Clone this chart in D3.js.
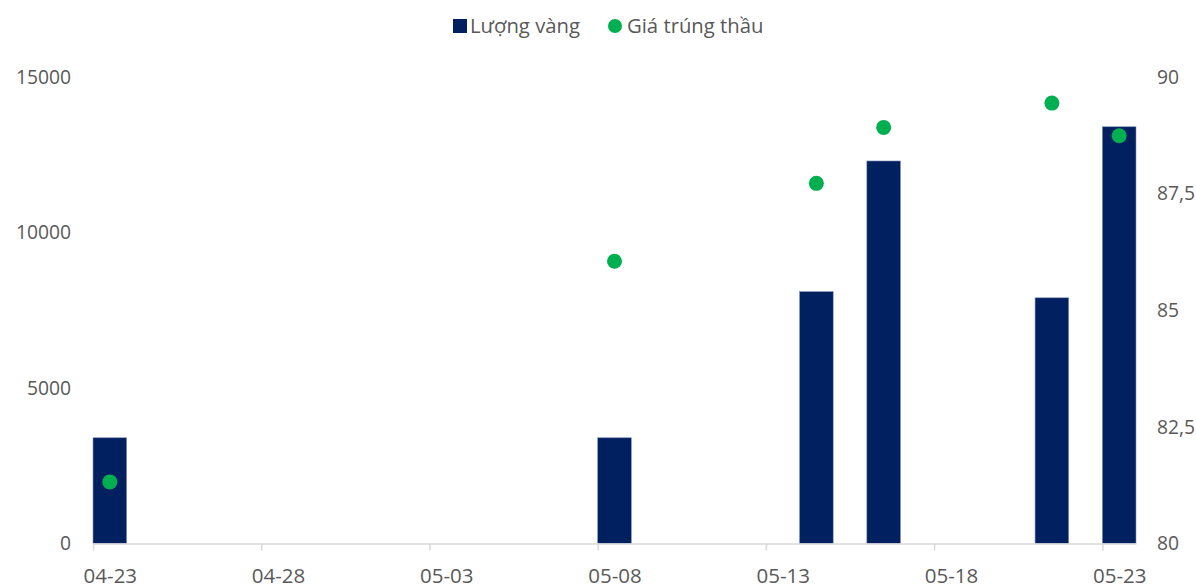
<!DOCTYPE html>
<html>
<head>
<meta charset="utf-8">
<script src="https://cdn.jsdelivr.net/npm/d3@7"></script>
<style>
  html, body { margin: 0; padding: 0; background: #fff; }
  svg { display: block; font-family: "Open Sans", "Noto Sans", sans-serif; }
</style>
</head>
<body>
<svg id="chart" width="1196" height="588"></svg>
<script>
// Auction dates, gold volume (taels) and winning price (million VND / tael)
const dates = ["2024-04-23", "2024-05-08", "2024-05-14", "2024-05-16", "2024-05-21", "2024-05-23"];
const volumes = [3400, 3400, 8100, 12300, 7900, 13400];
const prices = [81.32, 86.05, 87.72, 88.92, 89.44, 88.74];

const leftTicks = [0, 5000, 10000, 15000];
const rightTicks = [80, 82.5, 85, 87.5, 90];
const xTickDates = ["2024-04-23", "2024-04-28", "2024-05-03", "2024-05-08", "2024-05-13", "2024-05-18", "2024-05-23"];

const seriesNames = ["Lượng vàng", "Giá trúng thầu"];
const barColor = "#002060";
const dotColor = "#00b050";
const textColor = "#595959";

const parse = d3.utcParse("%Y-%m-%d");
const fmt = d3.utcFormat("%m-%d");
const dayAfter = d => d3.utcDay.offset(d, 1);

const rows = dates.map((d, i) => ({ date: parse(d), volume: volumes[i], price: prices[i] }));

const svg = d3.select("#chart");
const plot = { left: 93, right: 1136, top: 77, bottom: 543.5 };

const x = d3.scaleUtc()
  .domain([parse("2024-04-23"), dayAfter(parse("2024-05-23"))])
  .range([plot.left, plot.right]);
const yL = d3.scaleLinear().domain([0, 15000]).range([plot.bottom, plot.top]);
const yR = d3.scaleLinear().domain([80, 90]).range([plot.bottom, plot.top]);
const halfDay = (x(dayAfter(x.domain()[0])) - x(x.domain()[0])) / 2;

// Bars: each fills its day slot
svg.append("g").selectAll("rect")
  .data(rows)
  .join("rect")
  .attr("x", d => x(d.date))
  .attr("width", d => x(dayAfter(d.date)) - x(d.date))
  .attr("y", d => yL(d.volume))
  .attr("height", d => yL(0) - yL(d.volume))
  .attr("fill", barColor)
  .attr("stroke", "#8593b5")
  .attr("stroke-width", 0.6);

// Bottom axis line and ticks; labels sit under the middle of each day slot
const xAxis = d3.axisBottom(x)
  .tickValues(xTickDates.map(parse))
  .tickFormat(fmt)
  .tickSize(7)
  .tickSizeOuter(0);
const gx = svg.append("g")
  .attr("transform", `translate(0,${plot.bottom})`)
  .call(xAxis);
gx.select(".domain").attr("stroke", "#d9d9d9").attr("stroke-width", 1.5);
gx.selectAll(".tick line").attr("stroke", "#d9d9d9").attr("stroke-width", 1.5);
gx.selectAll(".tick text")
  .attr("fill", textColor)
  .attr("font-size", 20.5)
  .attr("font-family", "'Open Sans', sans-serif")
  .attr("dy", 0)
  .attr("x", halfDay)
  .attr("y", 39.5);

// Left axis (labels only)
const gl = svg.append("g")
  .attr("transform", `translate(${plot.left - 22},0)`)
  .call(d3.axisLeft(yL).tickValues(leftTicks).tickFormat(d3.format("d")).tickSize(0));
gl.select(".domain").remove();
gl.selectAll(".tick text")
  .attr("fill", textColor)
  .attr("font-size", 19.3)
  .attr("font-family", "'Open Sans', sans-serif")
  .attr("x", 0);

// Right axis (labels only), decimal comma
const commaFmt = d => d3.format("~g")(d).replace(".", ",");
const gr = svg.append("g")
  .attr("transform", `translate(${plot.right + 21},0)`)
  .call(d3.axisRight(yR).tickValues(rightTicks).tickFormat(commaFmt).tickSize(0));
gr.select(".domain").remove();
gr.selectAll(".tick text")
  .attr("fill", textColor)
  .attr("font-size", 19.3)
  .attr("font-family", "'Open Sans', sans-serif")
  .attr("x", 0);

// Price dots centred on each day slot
svg.append("g").selectAll("circle")
  .data(rows)
  .join("circle")
  .attr("cx", d => (x(d.date) + x(dayAfter(d.date))) / 2)
  .attr("cy", d => yR(d.price))
  .attr("r", 7.5)
  .attr("fill", dotColor);

// Legend
const legend = svg.append("g").attr("font-size", 20.3).attr("fill", textColor);
legend.append("rect")
  .attr("x", 453).attr("y", 19).attr("width", 14).attr("height", 14)
  .attr("fill", barColor);
legend.append("text")
  .attr("x", 470).attr("y", 32.5)
  .attr("fill", textColor)
  .text(seriesNames[0]);
legend.append("circle")
  .attr("cx", 615).attr("cy", 26).attr("r", 7)
  .attr("fill", dotColor);
legend.append("text")
  .attr("x", 627).attr("y", 32.5)
  .attr("fill", textColor)
  .text(seriesNames[1]);
</script>
</body>
</html>
